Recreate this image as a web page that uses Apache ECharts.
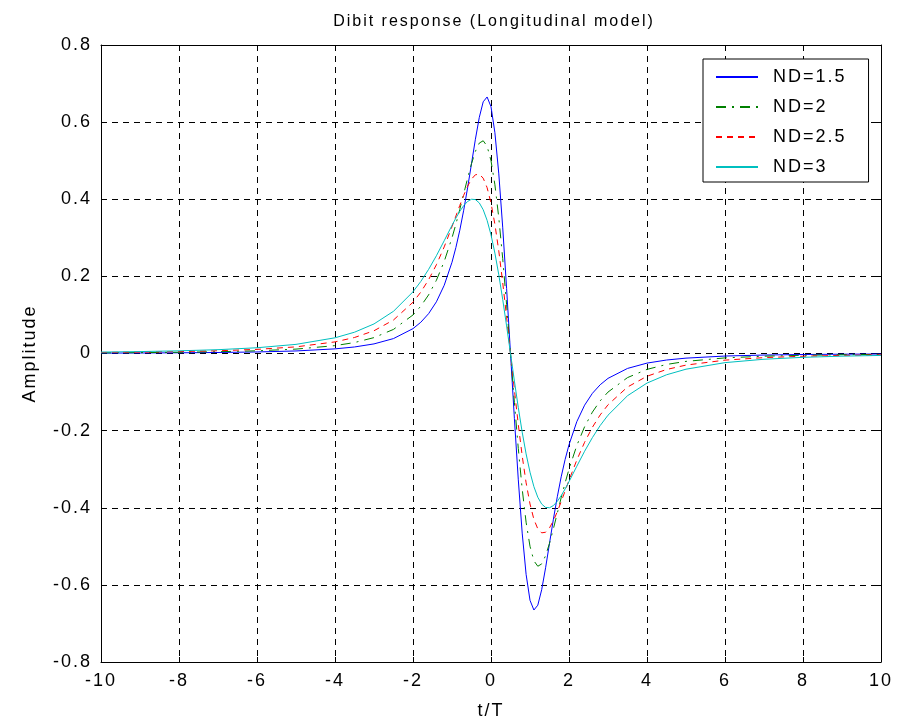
<!DOCTYPE html>
<html>
<head>
<meta charset="utf-8">
<script src="https://cdn.jsdelivr.net/npm/echarts@6/dist/echarts.min.js"></script>
<style>html,body{margin:0;padding:0;background:#fff}#c{width:897px;height:726px}</style>
</head>
<body>
<div id="c"></div>
<script>
const tValues = [-10,-9,-8,-7,-6,-5,-4,-3.5,-3,-2.5,-2,-1.8,-1.6,-1.4,-1.2,-1,-0.9,-0.8,-0.7,-0.6,-0.5,-0.4,-0.3,-0.2,-0.1,0,0.1,0.2,0.3,0.4,0.5,
  0.6,0.7,0.8,0.9,1,1.1,1.2,1.3,1.4,1.5,1.6,1.7,1.8,1.9,2,2.2,2.4,2.6,2.8,3,3.5,4,4.5,5,6,7,8,9,10];
const nd15 = [0.0010,0.0013,0.0018,0.0026,0.0040,0.0066,0.0120,0.0169,0.0249,0.0387,0.0645,0.0810,0.1033,0.1340,0.1768,0.2367,0.2750,0.3198,0.3715,0.4296,0.4923,0.5556,0.6124,0.6527,0.6652,0.6400,0.5727,0.4658,0.3276,0.1688,0,
  -0.1688,-0.3276,-0.4658,-0.5727,-0.6400,-0.6652,-0.6527,-0.6124,-0.5556,-0.4923,-0.4296,-0.3715,-0.3198,-0.2750,-0.2367,-0.1768,-0.1340,-0.1033,-0.0810,-0.0645,-0.0387,-0.0249,-0.0169,-0.0120,-0.0066,-0.0040,-0.0026,-0.0018,-0.0013];
const nd2 = [0.0017,0.0023,0.0032,0.0046,0.0070,0.0114,0.0204,0.0284,0.0412,0.0625,0.1000,0.1227,0.1520,0.1899,0.2386,0.3000,0.3356,0.3739,0.4141,0.4544,0.4923,0.5242,0.5457,0.5517,0.5376,0.5000,0.4376,0.3518,0.2463,0.1268,0,
  -0.1268,-0.2463,-0.3518,-0.4376,-0.5000,-0.5376,-0.5517,-0.5457,-0.5242,-0.4923,-0.4544,-0.4141,-0.3739,-0.3356,-0.3000,-0.2386,-0.1899,-0.1520,-0.1227,-0.1000,-0.0625,-0.0412,-0.0284,-0.0204,-0.0114,-0.0070,-0.0046,-0.0032,-0.0023];
const nd25 = [0.0026,0.0035,0.0049,0.0071,0.0107,0.0172,0.0301,0.0415,0.0590,0.0869,0.1330,0.1592,0.1913,0.2302,0.2764,0.3289,0.3565,0.3841,0.4103,0.4337,0.4522,0.4635,0.4651,0.4546,0.4301,0.3902,0.3351,0.2656,0.1843,0.0944,0,
  -0.0944,-0.1843,-0.2656,-0.3351,-0.3902,-0.4301,-0.4546,-0.4651,-0.4635,-0.4522,-0.4337,-0.4103,-0.3841,-0.3565,-0.3289,-0.2764,-0.2302,-0.1913,-0.1592,-0.1330,-0.0869,-0.0590,-0.0415,-0.0301,-0.0172,-0.0107,-0.0071,-0.0049,-0.0035];
const nd3 = [0.0037,0.0050,0.0069,0.0099,0.0149,0.0237,0.0407,0.0552,0.0767,0.1095,0.1600,0.1868,0.2181,0.2535,0.2924,0.3323,0.3513,0.3687,0.3834,0.3943,0.4000,0.3992,0.3905,0.3728,0.3453,0.3077,0.2603,0.2040,0.1404,0.0715,0,
  -0.0715,-0.1404,-0.2040,-0.2603,-0.3077,-0.3453,-0.3728,-0.3905,-0.3992,-0.4000,-0.3943,-0.3834,-0.3687,-0.3513,-0.3323,-0.2924,-0.2535,-0.2181,-0.1868,-0.1600,-0.1095,-0.0767,-0.0552,-0.0407,-0.0237,-0.0149,-0.0099,-0.0069,-0.0050];
const seriesNames = ['ND=1.5','ND=2','ND=2.5','ND=3'];
const seriesValues = [nd15, nd2, nd25, nd3];
const xTicks = {min: -10, max: 10, interval: 2};
const yTicks = {min: -0.8, max: 0.8, interval: 0.2};

// widen glyph spacing like the reference rendering
(function () {
  const orig = HTMLCanvasElement.prototype.getContext;
  HTMLCanvasElement.prototype.getContext = function (type, opts) {
    const ctx = orig.call(this, type, opts);
    if (ctx && type === '2d' && 'letterSpacing' in ctx) ctx.letterSpacing = '2px';
    return ctx;
  };
})();

const FONT = '"Liberation Sans", Arial, sans-serif';
const colors = ['#0000ff', '#008000', '#ff0000', '#00bfbf'];
const dashes = ['solid', [10, 6, 2, 6], [6, 5], 'solid'];

const chart = echarts.init(document.getElementById('c'), null, {renderer: 'canvas'});
const gridLine = {show: true, lineStyle: {color: '#000', type: [6, 5], width: 1}};
const tick = {show: true, inside: true, length: 5, lineStyle: {color: '#000'}};
const axisLine = {show: true, onZero: false, lineStyle: {color: '#000', width: 1}};
chart.setOption({
  animation: false,
  backgroundColor: '#fff',
  title: {
    text: 'Dibit response (Longitudinal model)',
    left: 489, top: 8, textAlign: 'center',
    textStyle: {fontFamily: FONT, fontSize: 16, fontWeight: 'normal', color: '#000'}
  },
  grid: {left: 101, right: 16, top: 45, bottom: 61},
  legend: {
    orient: 'vertical', left: 703, top: 59,
    backgroundColor: '#fff', borderColor: '#000', borderWidth: 1, borderRadius: 0,
    padding: [8, 22, 5, 12], itemWidth: 42, itemHeight: 18, itemGap: 10,
    itemStyle: {opacity: 0},
    textStyle: {fontFamily: FONT, fontSize: 18, color: '#000', padding: [0, 0, 0, 10]},
    data: seriesNames
  },
  xAxis: [{
    type: 'value', min: xTicks.min, max: xTicks.max, interval: xTicks.interval,
    name: 't/T', nameLocation: 'middle', nameGap: 39,
    nameTextStyle: {fontFamily: FONT, fontSize: 18, color: '#000'},
    axisLine: axisLine, axisTick: tick, splitLine: gridLine,
    axisLabel: {fontFamily: FONT, fontSize: 18, color: '#000', margin: 9}
  }, {
    type: 'value', position: 'top', min: xTicks.min, max: xTicks.max, interval: xTicks.interval,
    axisLine: axisLine, axisTick: tick, splitLine: {show: false}, axisLabel: {show: false}
  }],
  yAxis: [{
    type: 'value', min: yTicks.min, max: yTicks.max, interval: yTicks.interval,
    name: 'Amplitude', nameLocation: 'middle', nameGap: 61,
    nameTextStyle: {fontFamily: FONT, fontSize: 18, color: '#000'},
    axisLine: axisLine, axisTick: tick, splitLine: gridLine,
    axisLabel: {fontFamily: FONT, fontSize: 18, color: '#000', margin: 9,
      formatter: v => String(Math.round(v * 10) / 10)}
  }, {
    type: 'value', position: 'right', min: yTicks.min, max: yTicks.max, interval: yTicks.interval,
    axisLine: axisLine, axisTick: tick, splitLine: {show: false}, axisLabel: {show: false}
  }],
  series: seriesNames.map((name, i) => ({
    name: name, type: 'line', xAxisIndex: 0, yAxisIndex: 0,
    showSymbol: false, symbol: 'none',
    lineStyle: {color: colors[i], width: 1, type: dashes[i]},
    itemStyle: {color: colors[i]},
    data: tValues.map((t, k) => [t, seriesValues[i][k]])
  }))
});
</script>
</body>
</html>
